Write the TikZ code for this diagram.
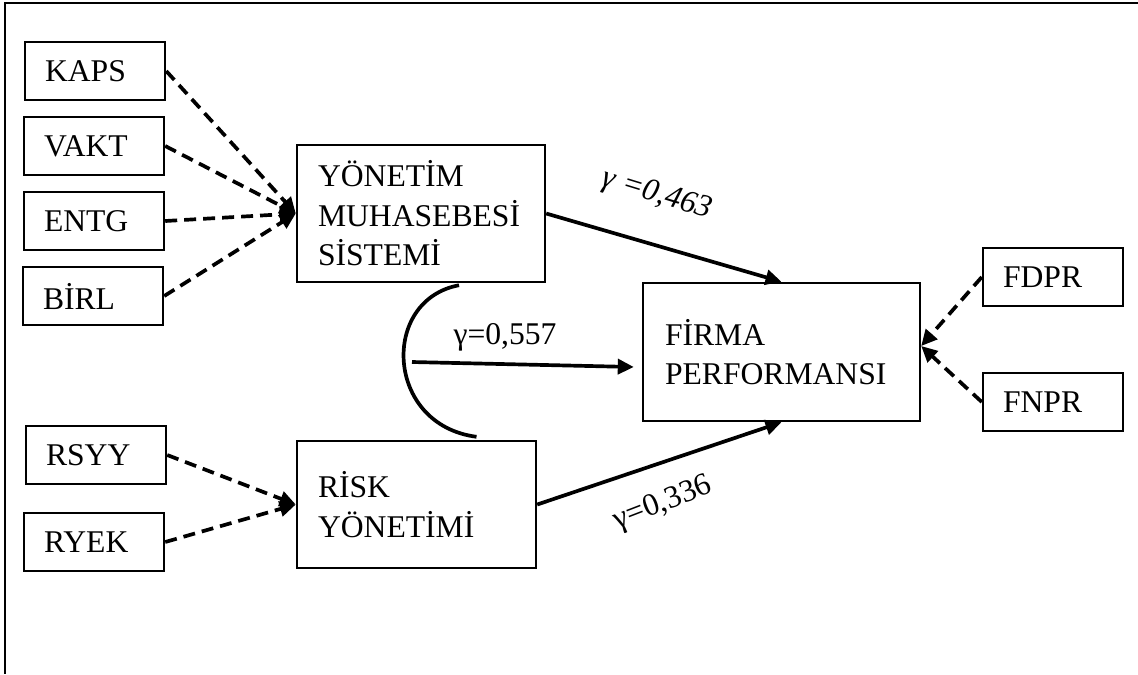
\documentclass[tikz,border=0pt]{standalone}
\usepackage{fontspec}
\setmainfont{Liberation Serif}
\usetikzlibrary{arrows.meta,calc}

\begin{document}
\begin{tikzpicture}[
  x=0.02cm, y=-0.02cm,
  font=\fontsize{18}{22.5}\selectfont,
  box/.style={draw,line width=1.4pt,align=left,inner ysep=0pt},
  ind/.style={box,text width=2.0cm,inner xsep=0.4cm,minimum height=1.16cm},
  arr/.style={-{Triangle[length=0.32cm,width=0.3cm]},line width=2.1pt},
  darr/.style={arr,dash pattern=on 0.24cm off 0.14cm}
]
\useasboundingbox (0,0) rectangle (1138,674);
\draw[line width=1.3pt] (1138,3) -- (5,3) -- (5,674);

% indicators of the two latent constructs
\node[ind] (kaps) at (95,71)  {KAPS};
\node[ind] (vakt) at (94,146) {VAKT};
\node[ind] (entg) at (94,221) {ENTG};
\node[ind] (birl) at (93,296) {BİRL};
\node[ind] (rsyy) at (96,455) {RSYY};
\node[ind] (ryek) at (94,542) {RYEK};

\node[box,text width=4.12cm,inner xsep=0.42cm,minimum height=2.74cm] (yms) at (421,213.5) {
  YÖNETİM\\
  MUHASEBESİ\\
  SİSTEMİ};
\node[box,text width=3.94cm,inner xsep=0.42cm,minimum height=2.54cm] (risk) at (416.5,504.5) {
  RİSK\\
  YÖNETİMİ};
\node[box,text width=4.66cm,inner xsep=0.44cm,minimum height=2.76cm] (firma) at (781.5,352) {
  FİRMA\\
  PERFORMANSI};

\node[ind] (fdpr) at (1053,277) {FDPR};
\node[ind] (fnpr) at (1053,402) {FNPR};

\draw[darr] (kaps.east) -- (yms.west);
\draw[darr] (vakt.east) -- (yms.west);
\draw[darr] (entg.east) -- (yms.west);
\draw[darr] (birl.east) -- (yms.west);
\draw[darr] (rsyy.east) -- (risk.west);
\draw[darr] (ryek.east) -- (risk.west);
\draw[darr] (fdpr.west) -- ([yshift=0.12cm]firma.east);
\draw[darr] (fnpr.west) -- ([yshift=0.12cm]firma.east);

\draw[arr] (yms.east) -- (firma.north);
\draw[arr] (risk.east) -- (firma.south);

% correlation arc and joint effect
\draw[line width=2.1pt] ($(yms.south)+(38,2)$) .. controls (380,300) and (385,425) .. ($(risk.north)+(60,-3)$);
\coordinate (corr) at (412,362);
\draw[arr] (corr) -- ($(firma.west)+(-8,15)$);

\node[rotate=-17,font=\fontsize{18}{22.5}\selectfont\itshape] (g1) at (657,195) {γ =0,463};
\node (g2) at (505,337) {γ=0,557};
\node[rotate=21] (g3) at (663,504) {γ=0,336};
\end{tikzpicture}
\end{document}
